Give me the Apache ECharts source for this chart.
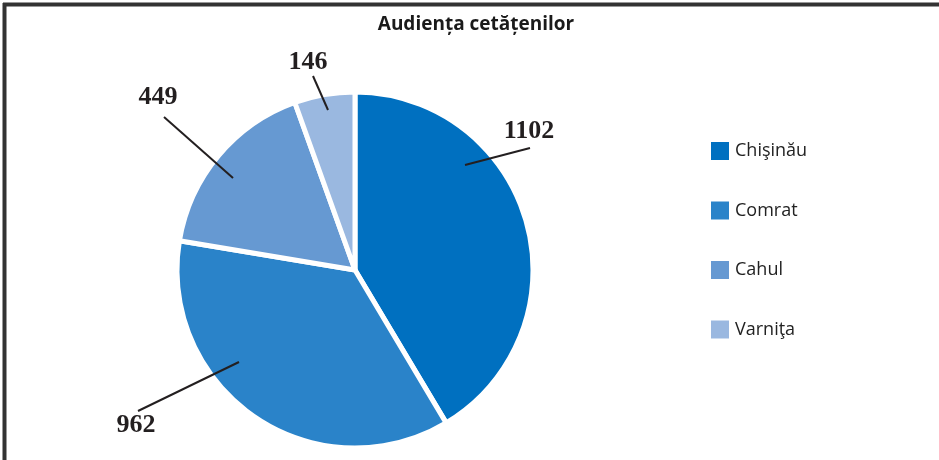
<!DOCTYPE html>
<html>
<head>
<meta charset="utf-8">
<script src="https://cdn.jsdelivr.net/npm/echarts@6/dist/echarts.min.js"></script>
<style>
  html, body { margin: 0; padding: 0; background: #fff; }
  #chart { width: 939px; height: 460px; }
</style>
</head>
<body>
<div id="chart"></div>
<script>
// data
const cities = ['Chişinău', 'Comrat', 'Cahul', 'Varniţa'];
const audiences = [1102, 962, 449, 146];
const sliceColors = ['#0070C0', '#2A83C9', '#6699D2', '#9AB8E0'];

// where each value label sits: text centre, then leader line start (inside slice) and end
const labelSpots = [
  { text: [529, 131], from: [465, 165], to: [530, 148] },
  { text: [136, 425], from: [239, 362], to: [138, 411] },
  { text: [158, 97],  from: [233, 178], to: [164, 117] },
  { text: [308, 62],  from: [328, 110], to: [313, 76] }
];

const chart = echarts.init(document.getElementById('chart'));

// leader lines sit on top of the slices, so draw them as graphics
const leaderLines = labelSpots.map(s => ({
  type: 'line',
  z: 100,
  shape: { x1: s.from[0], y1: s.from[1], x2: s.to[0], y2: s.to[1] },
  style: { stroke: '#231f20', lineWidth: 2 }
}));

const option = {
  animation: false,
  color: sliceColors,
  graphic: [
    { type: 'line', shape: { x1: 4.5, y1: 3, x2: 4.5, y2: 460 }, style: { stroke: '#333', lineWidth: 4 } },
    { type: 'line', shape: { x1: 3, y1: 4.5, x2: 939, y2: 4.5 }, style: { stroke: '#333', lineWidth: 4 } },
    {
      type: 'text', x: 476, y: 25,
      style: {
        text: 'Audiența cetățenilor',
        font: 'bold 19px "Open Sans"',
        fill: '#1a1a1a',
        align: 'center',
        verticalAlign: 'middle'
      }
    }
  ].concat(leaderLines),
  legend: {
    orient: 'vertical',
    left: 709,
    top: 140,
    padding: 0,
    itemWidth: 20,
    itemHeight: 20,
    itemGap: 37.5,
    icon: 'rect',
    selectedMode: false,
    textStyle: { fontFamily: 'Open Sans', fontSize: 18, color: '#222' },
    data: cities
  },
  series: [
    {
      type: 'pie',
      center: [355, 270],
      radius: 178,
      startAngle: 90,
      clockwise: true,
      itemStyle: { borderColor: '#fff', borderWidth: 5 },
      label: {
        show: true,
        formatter: '{c}',
        fontFamily: 'Liberation Serif',
        fontWeight: 'bold',
        fontSize: 26,
        color: '#231f20'
      },
      labelLine: { show: false },
      labelLayout: function (params) {
        const s = labelSpots[params.dataIndex];
        return {
          x: s.text[0],
          y: s.text[1],
          align: 'center',
          verticalAlign: 'middle'
        };
      },
      emphasis: { disabled: true },
      data: cities.map((name, i) => ({ name: name, value: audiences[i] }))
    }
  ]
};

chart.setOption(option);
</script>
</body>
</html>
